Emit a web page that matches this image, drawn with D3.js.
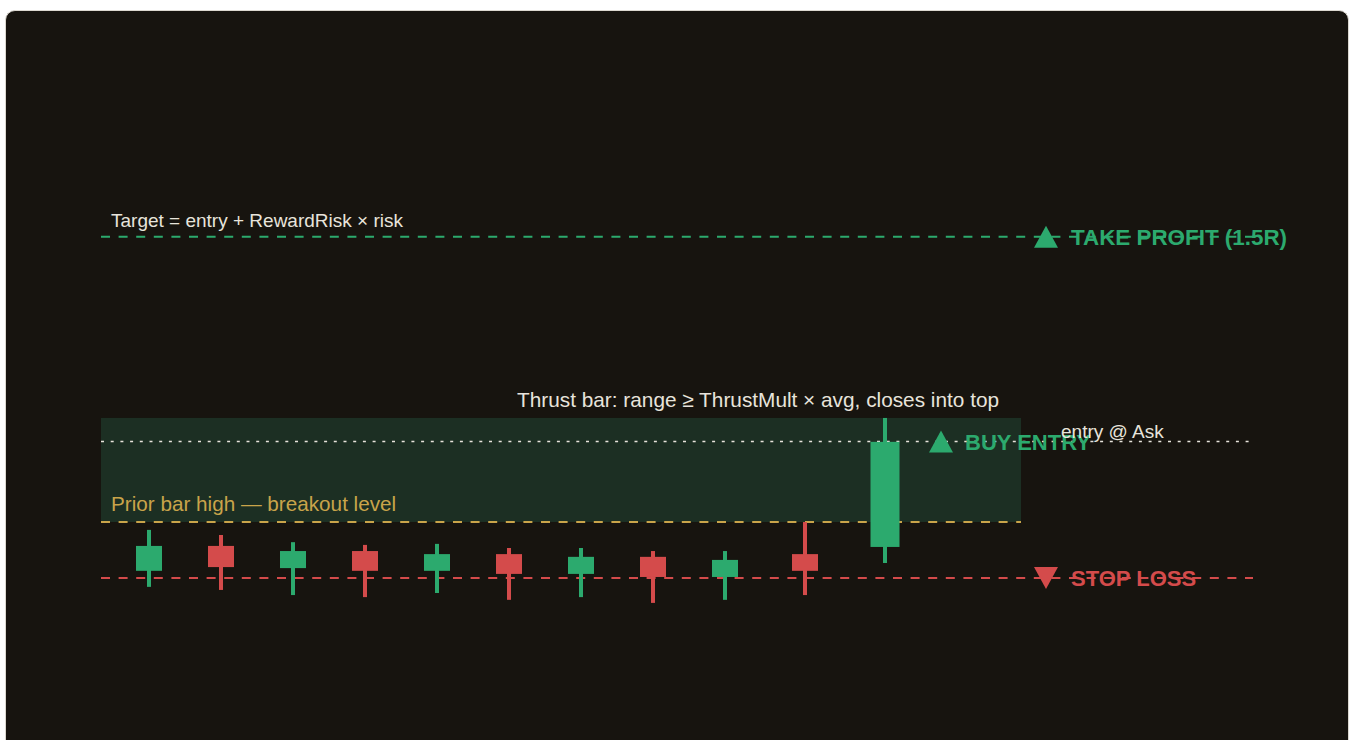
<!DOCTYPE html>
<html>
<head>
<meta charset="utf-8">
<script src="https://cdn.jsdelivr.net/npm/d3@7"></script>
<style>
  html, body { margin: 0; padding: 0; background: #ffffff; overflow: hidden; }
  #card {
    position: absolute; left: 5px; top: 10px; width: 1342px; height: 780px;
    background: #17140f; border: 1px solid #dcd8d0; border-radius: 10px;
  }
  #chart { position: absolute; left: 0; top: 0; }
  text { font-family: "Liberation Sans", Arial, sans-serif; }
</style>
</head>
<body>
<div id="card"></div>
<div id="chart"></div>
<script>
// bar times (arbitrary units) and OHLC
const barTime = [0, 9, 18, 27, 36, 45, 54, 63, 72, 82, 92];
const opens  = [100.21, 100.94, 100.29, 100.79, 100.21, 100.70, 100.12, 100.62, 100.03, 100.70, 100.91];
const highs  = [101.41, 101.26, 101.05, 100.97, 101.00, 100.88, 100.88, 100.79, 100.79, 101.64, 104.69];
const lows   = [99.74, 99.65, 99.50, 99.44, 99.56, 99.36, 99.44, 99.27, 99.36, 99.50, 100.44];
const closes = [100.94, 100.32, 100.79, 100.21, 100.70, 100.12, 100.62, 100.03, 100.53, 100.21, 103.99];

// trade levels
const stopLevel = 100;
const entryLevel = 104;
const targetLevel = 110;
const breakoutLevel = 101.64;   // prior bar high

const labels = {
  target: "Target = entry + RewardRisk × risk",
  tp: "TAKE PROFIT (1.5R)",
  thrust: "Thrust bar: range ≥ ThrustMult × avg, closes into top",
  entry: "BUY ENTRY",
  ask: "entry @ Ask",
  prior: "Prior bar high — breakout level",
  sl: "STOP LOSS"
};

const W = 1352, H = 740;
const left = 101, zoneRight = 1021, lineRight = 1253;
const green = "#2caa6e", red = "#d44b4b", gold = "#c9a44a", ink = "#e8e4dc";

const svg = d3.select("#chart").append("svg")
  .attr("width", W).attr("height", H);

const x = d3.scaleLinear().domain([0, 92]).range([149, 885]);
const y = d3.scaleLinear().domain([100, 110]).range([578, 236.75]);

const bars = barTime.map((t, i) => ({ t, o: opens[i], h: highs[i], l: lows[i], c: closes[i], thrust: i === barTime.length - 1 }));
const thrustBar = bars[bars.length - 1];

// breakout zone: prior high up to thrust high
svg.append("rect")
  .attr("x", left).attr("width", zoneRight - left)
  .attr("y", y(thrustBar.h)).attr("height", y(breakoutLevel) - y(thrustBar.h))
  .attr("fill", "#1c2f23");

// horizontal levels
function level(v, x2, color, dash, width) {
  svg.append("line")
    .attr("x1", left).attr("x2", x2)
    .attr("y1", y(v)).attr("y2", y(v))
    .attr("stroke", color).attr("stroke-width", width)
    .attr("stroke-dasharray", dash);
}
level(targetLevel, lineRight, green, "9,8.6", 2);
level(stopLevel, lineRight, red, "9,8.6", 2);
level(breakoutLevel, zoneRight, gold, "9,8.6", 2);
level(entryLevel, lineRight, ink, "3,6.7", 1.6);

// candles
const g = svg.append("g");
g.selectAll("line.wick").data(bars).join("line")
  .attr("class", "wick")
  .attr("x1", d => x(d.t)).attr("x2", d => x(d.t))
  .attr("y1", d => y(d.h)).attr("y2", d => y(d.l))
  .attr("stroke", d => d.c >= d.o ? green : red)
  .attr("stroke-width", 4);

g.selectAll("rect.body").data(bars).join("rect")
  .attr("class", "body")
  .attr("x", d => x(d.t) - (d.thrust ? 14.5 : 13))
  .attr("width", d => d.thrust ? 29 : 26)
  .attr("y", d => y(Math.max(d.o, d.c)))
  .attr("height", d => Math.abs(y(d.o) - y(d.c)))
  .attr("fill", d => d.c >= d.o ? green : red);

// markers
const tri = (cx, cy, up) => up
  ? `M${cx - 12},${cy + 11}L${cx + 12},${cy + 11}L${cx},${cy - 11}Z`
  : `M${cx - 12},${cy - 11}L${cx + 12},${cy - 11}L${cx},${cy + 11}Z`;

const markX = zoneRight + 25;
svg.append("path").attr("d", tri(markX, y(targetLevel), true)).attr("fill", green);
svg.append("path").attr("d", tri(markX, y(stopLevel), false)).attr("fill", red);
svg.append("path").attr("d", tri(x(thrustBar.t) + 56, y(entryLevel), true)).attr("fill", green);

function label(txt, px, py, color, size, bold) {
  svg.append("text")
    .attr("x", px).attr("y", py)
    .attr("fill", color)
    .style("font-size", size + "px")
    .style("font-weight", bold ? "bold" : "normal")
    .text(txt);
}
label(labels.tp, markX + 25, y(targetLevel) + 8, green, 22.4, true);
label(labels.sl, markX + 25, y(stopLevel) + 8, red, 22, true);
label(labels.entry, x(thrustBar.t) + 80, y(entryLevel) + 8, green, 22, true);

label(labels.target, 111, y(targetLevel) - 10, ink, 19, false);
label(labels.prior, 111, y(breakoutLevel) - 11, gold, 20.7, false);
label(labels.thrust, 517, y(thrustBar.h) - 11, ink, 20.8, false);
label(labels.ask, 1061, y(entryLevel) - 4, ink, 19, false);
</script>
</body>
</html>
